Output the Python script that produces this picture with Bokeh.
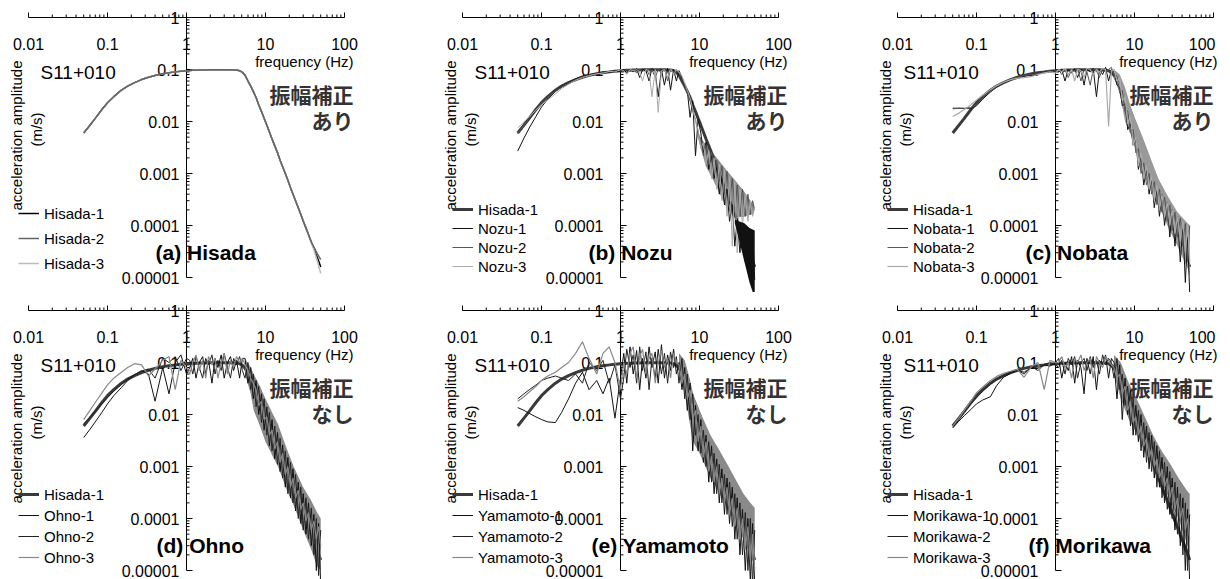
import math
from bokeh.plotting import figure
from bokeh.models import Label, Legend, LegendItem
from bokeh.layouts import gridplot
from bokeh.embed import file_html
from bokeh.resources import INLINE

# ---------------- data ----------------
FREQ = [
    0.05, 0.06, 0.07, 0.085, 0.1, 0.12, 0.15, 0.18, 0.22, 0.27, 0.33, 0.4, 0.5, 0.6, 0.72, 0.85, 1.0,
    1.1, 1.2, 1.32, 1.45, 1.6, 1.75, 1.9, 2.1, 2.3, 2.5, 2.75, 3.0, 3.3, 3.6, 3.95, 4.3, 4.7, 5.1,
    5.5, 6.0, 6.5, 7.0, 7.6, 8.2, 8.9, 9.6, 10.4, 11.2, 12.1, 13.1, 14.2, 15.3, 16.5, 17.8, 19.2, 20.7,
    22.3, 24, 26, 28, 30, 32.5, 35, 38, 41, 44, 47, 50,
]

HISADA_1 = [
    0.0060, 0.0085, 0.0115, 0.017, 0.023, 0.030, 0.040, 0.048, 0.056, 0.064, 0.071, 0.077, 0.083, 0.087, 0.090, 0.093, 0.095,
    0.096, 0.097, 0.097, 0.098, 0.098, 0.098, 0.099, 0.099, 0.099, 0.099, 0.099, 0.099, 0.099, 0.099, 0.098, 0.098, 0.095, 0.088,
    0.078, 0.060, 0.048, 0.038, 0.029, 0.021, 0.0155, 0.0115, 0.0085, 0.0063, 0.0046, 0.0034, 0.0025, 0.0018, 0.00135, 0.0010,
    0.00074, 0.00054, 0.00040, 0.00030, 0.00022, 0.000163, 0.000122, 0.000090, 0.000067, 0.000048, 0.000036, 0.000027, 0.000021, 0.000016,
]
HISADA_2_TAIL = [3.9e-5, 3.1e-5, 2.6e-5, 2.2e-5]
HISADA_3_TAIL = [3.4e-5, 2.4e-5, 1.7e-5, 1.2e-5]
HISADA_2 = HISADA_1[:61] + HISADA_2_TAIL
HISADA_3 = HISADA_1[:61] + HISADA_3_TAIL

NOZU_1 = [
    0.0027, 0.0048, 0.0075, 0.0125, 0.019, 0.027, 0.038, 0.047, 0.056, 0.066, 0.075, 0.080, 0.083, 0.090, 0.088, 0.095, 0.093,
    0.1, 0.085, 0.102, 0.09, 0.105, 0.07, 0.1, 0.095, 0.06, 0.105, 0.09, 0.03, 0.1, 0.05, 0.105, 0.04, 0.1, 0.06,
    0.095, 0.07, 0.05, 0.04, 0.012, 0.025, 0.0022, 0.011, 0.006, 0.0025, 0.004, 0.0012, 0.0022, 0.0008, 0.0013, 0.0004,
    0.0008, 0.00025, 0.0005, 0.00012, 0.00025, 0.00004, 0.00013, 0.00003, 0.00011, 0.00002, 0.00009, 0.00001, 0.00008, 0.000009,
]
NOZU_2 = [
    0.0058, 0.0085, 0.0115, 0.017, 0.023, 0.029, 0.038, 0.046, 0.055, 0.064, 0.072, 0.078, 0.082, 0.088, 0.09, 0.094, 0.097,
    0.09, 0.1, 0.095, 0.102, 0.085, 0.1, 0.092, 0.105, 0.08, 0.1, 0.07, 0.1, 0.085, 0.105, 0.06, 0.1, 0.09, 0.1,
    0.085, 0.07, 0.05, 0.035, 0.025, 0.016, 0.011, 0.006, 0.0045, 0.0022, 0.0035, 0.0015, 0.0026, 0.001, 0.0018, 0.0007,
    0.0014, 0.0004, 0.0011, 0.0003, 0.0008, 0.00018, 0.0006, 0.00015, 0.0005, 0.00015, 0.0004, 0.00016, 0.0003, 0.0002,
]
NOZU_3 = [
    0.0075, 0.0098, 0.0125, 0.0165, 0.021, 0.026, 0.034, 0.043, 0.052, 0.062, 0.07, 0.076, 0.083, 0.085, 0.092, 0.09, 0.1,
    0.095, 0.08, 0.1, 0.095, 0.1, 0.09, 0.06, 0.1, 0.095, 0.03, 0.1, 0.015, 0.095, 0.1, 0.07, 0.105, 0.08, 0.1,
    0.09, 0.075, 0.055, 0.04, 0.028, 0.018, 0.01, 0.007, 0.003, 0.004, 0.0015, 0.0028, 0.0008, 0.002, 0.0005, 0.0015,
    0.0003, 0.0012, 0.00015, 0.0009, 0.00004, 0.0007, 0.00003, 0.0005, 0.0001, 0.0004, 0.00012, 0.0003, 0.00015, 0.00022,
]

NOBATA_1 = [
    0.018, 0.018, 0.0178, 0.018, 0.02, 0.027, 0.037, 0.046, 0.055, 0.063, 0.07, 0.074, 0.078, 0.082, 0.088, 0.092, 0.095,
    0.09, 0.1, 0.06, 0.1, 0.085, 0.105, 0.07, 0.1, 0.05, 0.1, 0.09, 0.105, 0.03, 0.1, 0.08, 0.11, 0.06, 0.1,
    0.09, 0.05, 0.045, 0.02, 0.022, 0.007, 0.009, 0.0035, 0.0045, 0.0012, 0.0022, 0.0006, 0.0012, 0.0004, 0.0008, 0.00022,
    0.0005, 0.00015, 0.0004, 0.0001, 0.00028, 0.00006, 0.0002, 0.00004, 0.00015, 0.00002, 0.0001, 0.000008, 0.00006, 0.000005,
]
NOBATA_2 = [
    0.0175, 0.018, 0.018, 0.0185, 0.021, 0.029, 0.038, 0.047, 0.056, 0.064, 0.07, 0.076, 0.08, 0.083, 0.087, 0.09, 0.094,
    0.1, 0.08, 0.1, 0.07, 0.1, 0.095, 0.105, 0.06, 0.1, 0.09, 0.05, 0.1, 0.095, 0.07, 0.105, 0.09, 0.1, 0.11,
    0.08, 0.075, 0.035, 0.04, 0.015, 0.016, 0.006, 0.007, 0.0025, 0.003, 0.001, 0.0016, 0.0006, 0.001, 0.0004, 0.0007,
    0.00025, 0.0005, 0.00018, 0.00035, 0.00012, 0.00025, 0.00008, 0.00018, 0.00006, 0.00014, 0.00004, 0.00011, 0.00002, 0.0001,
]
NOBATA_3 = [
    0.0125, 0.0145, 0.017, 0.021, 0.026, 0.032, 0.041, 0.049, 0.057, 0.064, 0.068, 0.07, 0.074, 0.08, 0.086, 0.09, 0.085,
    0.1, 0.09, 0.105, 0.08, 0.1, 0.06, 0.1, 0.095, 0.07, 0.105, 0.1, 0.08, 0.1, 0.09, 0.105, 0.1, 0.008, 0.095,
    0.1, 0.06, 0.07, 0.025, 0.03, 0.009, 0.013, 0.0035, 0.005, 0.0014, 0.0025, 0.0008, 0.0014, 0.0005, 0.0009, 0.0003,
    0.0006, 0.0002, 0.0004, 0.00014, 0.00028, 0.0001, 0.0002, 0.00007, 0.00015, 0.00005, 0.00012, 0.00003, 0.0001, 0.00002,
]

OHNO_1 = [
    0.0036, 0.0052, 0.0072, 0.011, 0.016, 0.023, 0.033, 0.045, 0.058, 0.07, 0.06, 0.018, 0.08, 0.025, 0.1, 0.14, 0.06,
    0.08, 0.12, 0.05, 0.1, 0.13, 0.06, 0.11, 0.04, 0.12, 0.08, 0.14, 0.05, 0.1, 0.13, 0.07, 0.11, 0.05, 0.12,
    0.12, 0.04, 0.08, 0.02, 0.045, 0.01, 0.025, 0.005, 0.014, 0.0025, 0.008, 0.0014, 0.0045, 0.0008, 0.0026, 0.0004,
    0.0015, 0.00025, 0.0009, 0.00014, 0.0005, 0.00008, 0.0003, 0.00005, 0.0002, 0.00003, 0.00012, 0.00001, 0.00008, 0.000005,
]
OHNO_2 = [
    0.0066, 0.0088, 0.0115, 0.016, 0.021, 0.028, 0.038, 0.048, 0.058, 0.068, 0.075, 0.05, 0.12, 0.1, 0.13, 0.07, 0.12,
    0.11, 0.06, 0.13, 0.08, 0.05, 0.12, 0.09, 0.14, 0.06, 0.11, 0.07, 0.15, 0.08, 0.05, 0.12, 0.09, 0.13, 0.07,
    0.05, 0.1, 0.03, 0.06, 0.014, 0.035, 0.007, 0.02, 0.004, 0.011, 0.002, 0.006, 0.0011, 0.0035, 0.0006, 0.002,
    0.0003, 0.0012, 0.0002, 0.0007, 0.0001, 0.0004, 0.00006, 0.00025, 0.00004, 0.00016, 0.00002, 0.0001, 0.000008, 0.00006,
]
OHNO_3 = [
    0.008, 0.012, 0.017, 0.026, 0.037, 0.05, 0.065, 0.08, 0.095, 0.09, 0.055, 0.075, 0.11, 0.13, 0.03, 0.11, 0.08,
    0.06, 0.1, 0.14, 0.07, 0.11, 0.05, 0.13, 0.09, 0.12, 0.05, 0.1, 0.15, 0.06, 0.11, 0.08, 0.13, 0.1, 0.12,
    0.09, 0.07, 0.05, 0.04, 0.03, 0.015, 0.018, 0.008, 0.009, 0.004, 0.005, 0.0022, 0.003, 0.0012, 0.0018, 0.0007,
    0.001, 0.0004, 0.0006, 0.00025, 0.00035, 0.00015, 0.0002, 0.00009, 0.00013, 0.00006, 0.00009, 0.00004, 0.00007, 0.00003,
]

YAMAMOTO_1 = [
    0.0136, 0.012, 0.0105, 0.009, 0.008, 0.0072, 0.007, 0.011, 0.02, 0.04, 0.065, 0.03, 0.045, 0.025, 0.05, 0.0085, 0.05,
    0.15, 0.04, 0.2, 0.06, 0.17, 0.03, 0.12, 0.05, 0.2, 0.08, 0.16, 0.04, 0.22, 0.05, 0.14, 0.07, 0.18, 0.06,
    0.1, 0.03, 0.08, 0.012, 0.04, 0.002, 0.015, 0.002, 0.008, 0.0012, 0.004, 0.0005, 0.0025, 0.0003, 0.0014, 0.0002,
    0.0009, 0.00012, 0.0006, 0.00008, 0.0004, 0.00004, 0.00025, 0.00002, 0.00015, 0.00001, 0.0001, 0.000006, 0.00008, 0.000005,
]
YAMAMOTO_2 = [
    0.02, 0.025, 0.03, 0.037, 0.045, 0.05, 0.055, 0.05, 0.045, 0.06, 0.04, 0.1, 0.07, 0.11, 0.04, 0.09, 0.02,
    0.05, 0.18, 0.08, 0.14, 0.04, 0.2, 0.07, 0.16, 0.03, 0.12, 0.05, 0.18, 0.06, 0.15, 0.04, 0.16, 0.08, 0.13,
    0.04, 0.12, 0.02, 0.06, 0.008, 0.025, 0.004, 0.01, 0.0018, 0.005, 0.001, 0.003, 0.0005, 0.0018, 0.0003, 0.0011,
    0.0002, 0.0007, 0.00012, 0.0005, 0.00007, 0.0003, 0.00004, 0.0002, 0.00002, 0.00013, 0.00001, 0.0001, 0.000005, 0.00006,
]
YAMAMOTO_3 = [
    0.018, 0.022, 0.027, 0.035, 0.045, 0.055, 0.065, 0.08, 0.1, 0.15, 0.25, 0.12, 0.06, 0.15, 0.2, 0.1, 0.03,
    0.1, 0.06, 0.15, 0.2, 0.05, 0.13, 0.18, 0.06, 0.12, 0.15, 0.04, 0.1, 0.17, 0.08, 0.12, 0.05, 0.15, 0.1,
    0.09, 0.04, 0.06, 0.02, 0.03, 0.008, 0.012, 0.003, 0.006, 0.0015, 0.003, 0.0008, 0.0016, 0.0005, 0.001, 0.0003,
    0.0006, 0.0002, 0.0004, 0.00012, 0.00025, 0.00007, 0.00016, 0.00004, 0.0001, 0.000025, 0.00007, 0.000015, 0.00005, 0.00001,
]

MORIKAWA_1 = [
    0.0055, 0.0075, 0.0095, 0.0125, 0.016, 0.019, 0.022, 0.036, 0.052, 0.062, 0.07, 0.065, 0.08, 0.078, 0.09, 0.085, 0.1,
    0.12, 0.05, 0.1, 0.07, 0.13, 0.04, 0.11, 0.08, 0.025, 0.12, 0.06, 0.13, 0.03, 0.11, 0.09, 0.14, 0.05, 0.12,
    0.1, 0.02, 0.09, 0.008, 0.05, 0.01, 0.03, 0.004, 0.015, 0.003, 0.01, 0.0015, 0.006, 0.0009, 0.004, 0.0006,
    0.0025, 0.0004, 0.0015, 0.0002, 0.001, 0.00012, 0.0006, 0.00006, 0.0004, 0.00003, 0.00025, 0.00001, 0.00015, 0.000005,
]
MORIKAWA_2 = [
    0.0057, 0.0082, 0.011, 0.016, 0.021, 0.028, 0.038, 0.047, 0.056, 0.064, 0.071, 0.06, 0.083, 0.07, 0.092, 0.1, 0.09,
    0.08, 0.11, 0.06, 0.12, 0.09, 0.13, 0.05, 0.1, 0.12, 0.07, 0.13, 0.08, 0.11, 0.06, 0.14, 0.09, 0.12, 0.1,
    0.05, 0.12, 0.03, 0.06, 0.015, 0.035, 0.006, 0.02, 0.004, 0.012, 0.002, 0.007, 0.0012, 0.0045, 0.0008, 0.003,
    0.0004, 0.002, 0.00025, 0.0012, 0.00015, 0.0008, 0.0001, 0.0005, 0.00005, 0.0003, 0.00002, 0.0002, 0.00001, 0.00012,
]
MORIKAWA_3 = [
    0.006, 0.0085, 0.012, 0.018, 0.026, 0.034, 0.045, 0.054, 0.062, 0.068, 0.074, 0.052, 0.085, 0.1, 0.03, 0.11, 0.1,
    0.1, 0.13, 0.08, 0.1, 0.05, 0.12, 0.1, 0.14, 0.07, 0.1, 0.12, 0.05, 0.13, 0.1, 0.08, 0.13, 0.11, 0.09,
    0.08, 0.05, 0.06, 0.025, 0.035, 0.012, 0.018, 0.007, 0.009, 0.004, 0.006, 0.0025, 0.0035, 0.0015, 0.0022, 0.001,
    0.0014, 0.0006, 0.0009, 0.0004, 0.0006, 0.00025, 0.0004, 0.00015, 0.00025, 0.0001, 0.00016, 0.00006, 0.0001, 0.00004,
]

# envelopes of the densely oscillating high-frequency parts
NOZU_HORN_F = [9.5, 12, 14, 17, 22, 27, 36, 49]
NOZU_HORN_HI = [0.0058, 0.0036, 0.0027, 0.0019, 0.00115, 0.0008, 0.00047, 0.00024]
NOZU_HORN_LO = [0.005, 0.0014, 0.0009, 0.0005, 0.00022, 0.000145, 0.000145, 0.00017]
NOZU_BAND_F = [28, 32, 37, 43, 50]
NOZU_BAND_HI = [0.00013, 0.00012, 0.00011, 0.00009, 0.00008]
NOZU_BAND_LO = [0.00011, 0.00005, 0.00002, 0.000008, 0.000004]

NOBATA_BAND_F = [5.5, 6.5, 7.6, 8.8, 10, 12.7, 15.2, 20, 26, 35, 47, 50]
NOBATA_BAND_HI = [0.1, 0.08, 0.045, 0.021, 0.012, 0.005, 0.0024, 0.0008, 0.00038, 0.00018, 0.00011, 0.0001]
NOBATA_BAND_LO = [0.07, 0.035, 0.01, 0.006, 0.0035, 0.001, 0.0006, 0.00025, 0.0001, 0.00004, 0.000015, 0.00001]

OHNO_BAND_F = [5.5, 6.5, 7.1, 8.5, 10, 12.5, 14.4, 18, 22.7, 30, 38, 45, 50]
OHNO_BAND_HI = [0.12, 0.08, 0.06, 0.035, 0.02, 0.01, 0.0065, 0.0025, 0.001, 0.0004, 0.00022, 0.00013, 0.0001]
OHNO_BAND_LO = [0.06, 0.025, 0.012, 0.006, 0.003, 0.0015, 0.001, 0.0004, 0.00018, 0.00006, 0.000025, 0.000012, 0.00001]

YAMAMOTO_BAND_F = [5.5, 6.5, 7.5, 8.3, 10, 13.8, 18, 22.5, 28, 36, 44, 50]
YAMAMOTO_BAND_HI = [0.15, 0.11, 0.05, 0.025, 0.012, 0.004, 0.002, 0.0011, 0.0006, 0.0003, 0.0002, 0.00016]
YAMAMOTO_BAND_LO = [0.06, 0.025, 0.007, 0.003, 0.0018, 0.0006, 0.0003, 0.00017, 0.00009, 0.00004, 0.00002, 0.000012]

MORIKAWA_BAND_F = [5.5, 6.7, 8.5, 11, 14, 17.2, 22, 28.5, 36, 47, 50]
MORIKAWA_BAND_HI = [0.14, 0.1, 0.04, 0.018, 0.008, 0.004, 0.002, 0.0011, 0.0006, 0.00033, 0.0003]
MORIKAWA_BAND_LO = [0.06, 0.02, 0.008, 0.004, 0.0018, 0.001, 0.0005, 0.00022, 0.0001, 0.00003, 0.00002]

X_TICKS = [0.01, 0.1, 1, 10, 100]
X_TICK_LABELS = ["0.01", "0.1", "1", "10", "100"]
Y_TICKS = [1, 0.1, 0.01, 0.001, 0.0001, 0.00001]
Y_TICK_LABELS = ["1", "0.1", "0.01", "0.001", "0.0001", "0.00001"]
X_MINOR = [k * 10.0 ** e for e in range(-2, 2) for k in range(2, 10)]
Y_MINOR = [k * 10.0 ** e for e in range(-5, 0) for k in range(2, 10)]

STATION = "S11+010"
X_LABEL = "frequency (Hz)"
Y_LABEL = "acceleration amplitude"
Y_UNIT = "(m/s)"
CORR = "振幅補正"

for arr in [HISADA_1, HISADA_2, HISADA_3, NOZU_1, NOZU_2, NOZU_3, NOBATA_1, NOBATA_2, NOBATA_3,
            OHNO_1, OHNO_2, OHNO_3, YAMAMOTO_1, YAMAMOTO_2, YAMAMOTO_3,
            MORIKAWA_1, MORIKAWA_2, MORIKAWA_3]:
    assert len(arr) == len(FREQ), len(arr)

BLACK, DARK, MID, LIGHT, THICK = "#111111", "#555555", "#888888", "#aaaaaa", "#3a3a3a"

PANELS = [
    dict(title="(a) Hisada", corr="あり", pre=31, bands=[],
         series=[("Hisada-1", HISADA_1, "#000000", 1.5), ("Hisada-2", HISADA_2, "#666666", 1.5),
                 ("Hisada-3", HISADA_3, "#bbbbbb", 1.5)], order=[0, 2, 1]),
    dict(title="(b) Nozu", corr="あり", pre=32,
         bands=[(NOZU_HORN_F, NOZU_HORN_LO, NOZU_HORN_HI, "#8c8c8c", "under"),
                (NOZU_BAND_F, NOZU_BAND_LO, NOZU_BAND_HI, "#111111", "over")],
         series=[("Hisada-1", HISADA_1, THICK, 3), ("Nozu-1", NOZU_1, BLACK, 1),
                 ("Nozu-2", NOZU_2, DARK, 1), ("Nozu-3", NOZU_3, LIGHT, 1)], order=[0, 1, 2, 3]),
    dict(title="(c) Nobata", corr="あり", pre=30,
         bands=[(NOBATA_BAND_F, NOBATA_BAND_LO, NOBATA_BAND_HI, "#999999", "mid")],
         series=[("Hisada-1", HISADA_1, THICK, 3), ("Nobata-1", NOBATA_1, BLACK, 1),
                 ("Nobata-2", NOBATA_2, DARK, 1), ("Nobata-3", NOBATA_3, LIGHT, 1.2)], order=[0, 1, 2, 3]),
    dict(title="(d) Ohno", corr="なし", pre=30,
         bands=[(OHNO_BAND_F, OHNO_BAND_LO, OHNO_BAND_HI, "#8a8a8a", "mid")],
         series=[("Hisada-1", HISADA_1, THICK, 3), ("Ohno-1", OHNO_1, BLACK, 1),
                 ("Ohno-2", OHNO_2, "#222222", 1), ("Ohno-3", OHNO_3, MID, 1.2)], order=[0, 1, 2, 3]),
    dict(title="(e) Yamamoto", corr="なし", pre=29,
         bands=[(YAMAMOTO_BAND_F, YAMAMOTO_BAND_LO, YAMAMOTO_BAND_HI, "#8a8a8a", "mid")],
         series=[("Hisada-1", HISADA_1, THICK, 3), ("Yamamoto-1", YAMAMOTO_1, BLACK, 1),
                 ("Yamamoto-2", YAMAMOTO_2, "#222222", 1), ("Yamamoto-3", YAMAMOTO_3, MID, 1.2)], order=[0, 1, 2, 3]),
    dict(title="(f) Morikawa", corr="なし", pre=27,
         bands=[(MORIKAWA_BAND_F, MORIKAWA_BAND_LO, MORIKAWA_BAND_HI, "#8a8a8a", "mid")],
         series=[("Hisada-1", HISADA_1, THICK, 3), ("Morikawa-1", MORIKAWA_1, BLACK, 1),
                 ("Morikawa-2", MORIKAWA_2, "#222222", 1), ("Morikawa-3", MORIKAWA_3, MID, 1.2)], order=[0, 1, 2, 3]),
]

SANS = "Liberation Sans"
CJK = "Noto Sans CJK JP"

# layout (pixels): padding around the 4-decade x 5-decade data box of each panel
PX_DEC_X, PX_DEC_Y = 79, 52
PAD_LEFT = [28, 20, 20]
PAD_RIGHT = [98, 99, 17]
PAD_TOP = [17, 18]
PAD_BOTTOM = [15, 9]


def add_label(p, text, x, y, dx=0, dy=0, size="16px", align="center", baseline="middle",
              bold=False, color="black", angle=0.0, font=SANS, level="annotation"):
    p.add_layout(Label(x=x, y=y, x_offset=dx, y_offset=dy, text=text, text_font=font,
                       text_font_size=size, text_align=align, text_baseline=baseline,
                       text_font_style="bold" if bold else "normal", text_color=color,
                       angle=angle, level=level))


def draw_bands(p, spec, where):
    for bf, lo, hi, color, w in spec["bands"]:
        if w == where:
            p.varea(x=bf, y1=lo, y2=hi, fill_color=color)


def build(i, spec):
    col, rw = i % 3, i // 3
    lp, rp, tp, bp = PAD_LEFT[col], PAD_RIGHT[col], PAD_TOP[rw], PAD_BOTTOM[rw]
    xr = (10 ** (math.log10(X_TICKS[0]) - lp / PX_DEC_X), 10 ** (math.log10(X_TICKS[-1]) + rp / PX_DEC_X))
    yr = (10 ** (math.log10(Y_TICKS[-1]) - bp / PX_DEC_Y), 10 ** (math.log10(Y_TICKS[0]) + tp / PX_DEC_Y))
    p = figure(x_axis_type="log", y_axis_type="log", x_range=xr, y_range=yr,
               width=lp + 4 * PX_DEC_X + rp, height=tp + 5 * PX_DEC_Y + bp,
               min_border=0, x_axis_location=None, y_axis_location=None,
               toolbar_location=None, output_backend="svg",
               background_fill_color="white", border_fill_color="white")
    p.outline_line_color = None
    p.grid.visible = False

    # top frequency axis (at amplitude 1) with upward ticks
    p.line(x=[X_TICKS[0], X_TICKS[-1]], y=[Y_TICKS[0], Y_TICKS[0]], line_color="black", line_width=1)
    p.ray(x=X_TICKS, y=[Y_TICKS[0]] * len(X_TICKS), length=5, length_units="screen",
          angle=math.pi / 2, line_color="black", line_width=1)
    p.ray(x=X_MINOR, y=[Y_TICKS[0]] * len(X_MINOR), length=3, length_units="screen",
          angle=math.pi / 2, line_color="black", line_width=1)
    # vertical amplitude axis at 1 Hz with ticks to the right
    p.line(x=[1, 1], y=[Y_TICKS[-1], Y_TICKS[0]], line_color="black", line_width=1)
    p.ray(x=[1] * len(Y_TICKS), y=Y_TICKS, length=6, length_units="screen", angle=0,
          line_color="black", line_width=1)
    p.ray(x=[1] * len(Y_MINOR), y=Y_MINOR, length=3, length_units="screen", angle=0,
          line_color="black", line_width=1)

    # data
    draw_bands(p, spec, "under")
    rends = {}
    for n, k in enumerate(spec["order"]):
        name, vals, color, width = spec["series"][k]
        rends[k] = p.line(FREQ, vals, line_color=color, line_width=width)
        if n == 0:
            draw_bands(p, spec, "mid")
    draw_bands(p, spec, "over")

    # tick labels
    gap = [7, 17, 17][col]
    for t, s in zip(Y_TICKS, Y_TICK_LABELS):
        add_label(p, s, 1, t, dx=-gap, align="right", level="underlay")
    for t, s in zip(X_TICKS, X_TICK_LABELS):
        if col == 2 and t == 100:
            add_label(p, s, t, 1, dx=2, dy=-26, align="right", level="underlay")
        else:
            add_label(p, s, t, 1, dy=-26, level="underlay")

    pad_f = [9, 9, 4][col]
    pad_j = [9, 9, 0][col]
    add_label(p, X_LABEL, 100, 1, dx=pad_f, dy=-44, size="15px", align="right")
    add_label(p, STATION, 0.01, 1, dx=[12, 12, 6][col], dy=-55, size="19px", align="left")
    add_label(p, CORR, 100, 1, dx=pad_j, dy=-76, size="21px", align="right", bold=True,
              color="#333333", font=CJK)
    add_label(p, spec["corr"], 100, 1, dx=pad_j, dy=-102, size="21px", align="right", bold=True,
              color="#333333", font=CJK)
    add_label(p, Y_LABEL, 0.01, 1, dx=-12, dy=-118, size="15px", angle=math.pi / 2)
    add_label(p, Y_UNIT, 0.01, 1, dx=8, dy=-112, size="15px", angle=math.pi / 2)
    add_label(p, spec["title"], 1, 1, dx=-spec["pre"], dy=-235, size="21px", align="left", bold=True)

    items = [LegendItem(label=s[0], renderers=[rends[k]]) for k, s in enumerate(spec["series"])]
    if len(items) == 3:
        spacing, vy = 7, bp + 5
    elif rw == 0:
        spacing, vy = 1, bp + 2
    else:
        spacing, vy = 3, bp + 4
    leg = Legend(items=items, location=(lp - 10, vy), glyph_width=21, glyph_height=18, label_height=18,
                 label_standoff=5, spacing=spacing, padding=0, margin=0, border_line_color=None,
                 background_fill_alpha=0, label_text_font=SANS, label_text_font_size="15px",
                 label_text_color="black")
    p.add_layout(leg)
    return p


figs = [build(i, s) for i, s in enumerate(PANELS)]
grid = gridplot([figs[:3], figs[3:]], toolbar_location=None)
open("out.html", "w").write(file_html(grid, INLINE))
